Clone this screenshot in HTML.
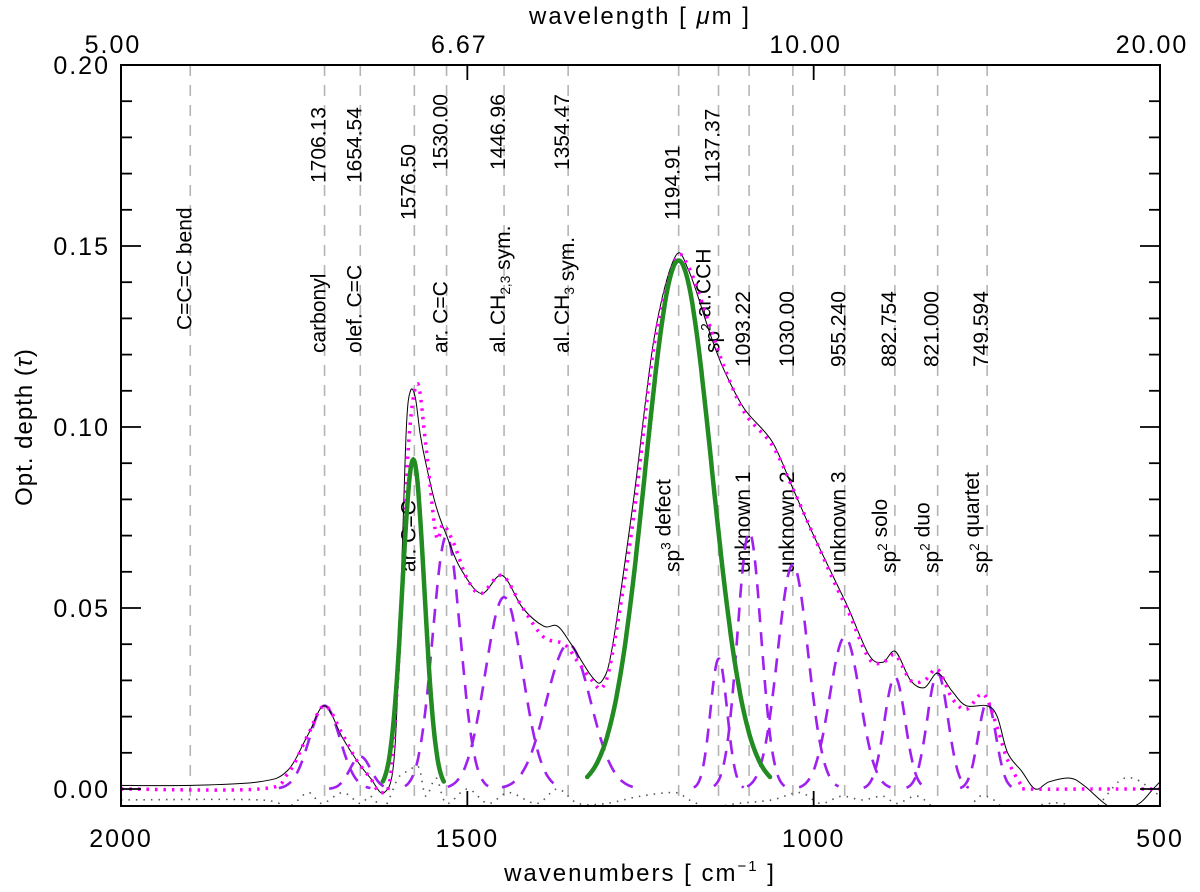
<!DOCTYPE html>
<html><head><meta charset="utf-8"><style>
html,body{margin:0;padding:0;background:#fff;}
svg{display:block;font-family:"Liberation Sans",sans-serif;}
</style></head><body>
<svg id="chart" width="1200" height="892" viewBox="0 0 1200 892" xmlns="http://www.w3.org/2000/svg">
<defs><clipPath id="clip"><rect x="121" y="65" width="1039" height="741"/></clipPath></defs>
<g id="grid"></g>
<g id="labels"></g>
<g id="series" clip-path="url(#clip)"></g>
<g id="axes"></g>
</svg>
<script>
const NS="http://www.w3.org/2000/svg";
// ---------- data ----------
const bandCenters=[1900,1706.13,1654.54,1576.50,1530.00,1446.96,1354.47,1194.91,1137.37,1093.22,1030.00,955.240,882.754,821.000,749.594];
const bandNumbers=["","1706.13","1654.54","1576.50","1530.00","1446.96","1354.47","1194.91","1137.37","1093.22","1030.00","955.240","882.754","821.000","749.594"];
const bandNames=["C=C=C bend","carbonyl","olef. C=C","ar. C=C","ar. C=C","al. CH|2,3| sym.","al. CH|3| sym.","sp^3^ defect","sp^2^ ar.CCH","unknown 1","unknown 2","unknown 3","sp^2^ solo","sp^2^ duo","sp^2^ quartet"];
const numberBottom=[0,183,183,220,170,170,170,220,183,367,367,367,367,367,367];
const nameBottom=[330,353,353,572,353,353,353,572,353,573,573,573,573,573,573];

const compCenter=[1706,1654.5,1530,1447,1354,1137,1093,1030,955,882.8,821,749.6];
const compHeight=[0.023,0.009,0.070,0.053,0.040,0.036,0.071,0.062,0.042,0.031,0.032,0.024];
const compSigma=[22,15,20,27,32,12,17,22,22,15,15,13];

const greenCenter=[1578,1195];
const greenHeight=[0.091,0.146];
const greenSigma=[16,48];

const obsW=[2000,1900,1800,1760,1730,1706,1680,1660,1640,1620,1605,1595,1588,1582,1575,1568,1560,1545,1530,1510,1480,1450,1420,1390,1370,1350,1320,1305,1290,1260,1230,1200,1180,1150,1130,1100,1060,1030,1000,970,950,920,900,882,860,840,821,800,780,750,735,720,700,680,660,630,610,580,560,530,510,500];
const obsV=[0.001,0.001,0.002,0.005,0.015,0.023,0.014,0.008,0.003,-0.001,0.010,0.060,0.100,0.110,0.108,0.098,0.090,0.078,0.070,0.061,0.054,0.059,0.050,0.045,0.045,0.040,0.031,0.030,0.040,0.080,0.125,0.147,0.143,0.126,0.116,0.105,0.096,0.083,0.070,0.058,0.050,0.037,0.035,0.038,0.030,0.028,0.032,0.027,0.023,0.023,0.020,0.010,0.005,0.000,0.002,0.003,0.001,-0.004,-0.006,-0.004,0.000,0.002];

const fitW=[2000,1800,1760,1730,1706,1680,1660,1640,1625,1610,1595,1585,1572,1560,1545,1535,1520,1500,1480,1450,1420,1390,1360,1340,1320,1305,1290,1260,1230,1200,1180,1150,1130,1100,1060,1030,1000,970,950,920,900,882,860,840,821,800,780,760,750,735,720,700,690,600,500];
const fitV=[0.000,0.000,0.004,0.015,0.023,0.015,0.008,0.003,-0.001,0.005,0.050,0.095,0.112,0.095,0.070,0.073,0.068,0.058,0.054,0.059,0.050,0.042,0.040,0.035,0.030,0.028,0.038,0.075,0.123,0.146,0.144,0.128,0.117,0.104,0.095,0.083,0.070,0.057,0.049,0.036,0.035,0.037,0.030,0.030,0.033,0.025,0.022,0.026,0.025,0.017,0.008,0.001,0.000,0.000,0.000];

const resW=[2000,1800,1760,1730,1710,1680,1655,1640,1620,1600,1585,1570,1560,1545,1530,1500,1470,1440,1400,1370,1340,1300,1250,1200,1180,1150,1110,1060,1020,990,960,930,900,880,850,820,800,780,760,740,720,690,660,640,600,560,540,520,500];
const resV=[-0.003,-0.003,-0.005,-0.001,-0.004,-0.001,-0.004,-0.002,-0.005,0.003,0.005,0.006,-0.002,0.003,-0.004,0.000,-0.004,-0.001,-0.004,0.000,-0.004,-0.004,-0.002,-0.001,-0.003,-0.005,-0.004,-0.003,-0.001,-0.004,-0.002,-0.003,-0.002,-0.004,-0.002,-0.006,-0.005,-0.006,-0.002,-0.003,-0.006,-0.005,-0.004,-0.004,-0.006,0.002,0.003,0.001,-0.002];

const yTicks=[0,0.05,0.10,0.15,0.20];
const yTickLabels=["0.00","0.05","0.10","0.15","0.20"];
const xTicks=[2000,1500,1000,500];
const xTickLabels=["2000","1500","1000","500"];
const lamTicks=[5,6.6667,10,20];
const lamTickLabels=["5.00","6.67","10.00","20.00"];

// ---------- scales ----------
const L=121,R=1160,T=65,B=806;
function X(w){return L+(2000-w)*(R-L)/1500;}
function Y(v){return 789-v*3620;}

function mk(tag,attrs,parent){const e=document.createElementNS(NS,tag);for(const k in attrs)e.setAttribute(k,attrs[k]);parent.appendChild(e);return e;}
function smooth(pts){
  let d="M"+pts[0][0].toFixed(1)+","+pts[0][1].toFixed(1);
  for(let i=0;i<pts.length-1;i++){
    const p0=pts[i-1]||pts[i],p1=pts[i],p2=pts[i+1],p3=pts[i+2]||p2;
    const c1=[p1[0]+(p2[0]-p0[0])/6,p1[1]+(p2[1]-p0[1])/6];
    const c2=[p2[0]-(p3[0]-p1[0])/6,p2[1]-(p3[1]-p1[1])/6];
    d+="C"+c1[0].toFixed(1)+","+c1[1].toFixed(1)+" "+c2[0].toFixed(1)+","+c2[1].toFixed(1)+" "+p2[0].toFixed(1)+","+p2[1].toFixed(1);
  }
  return d;
}
function gaussPath(c,h,s,k){
  let d="";
  for(let w=c+k*s,i=0;w>=c-k*s-0.01;w-=1,i++){
    const v=h*Math.exp(-0.5*((w-c)/s)**2);
    d+=(i?"L":"M")+X(w).toFixed(1)+","+Y(v).toFixed(1);
  }
  return d;
}

const grid=document.getElementById('grid'),labels=document.getElementById('labels'),series=document.getElementById('series'),axes=document.getElementById('axes');

// guide lines & labels
function rotText(x,y,str,size,parent,name){
  const t=mk('text',{x:x,y:y,transform:`rotate(-90 ${x} ${y})`,'text-anchor':'start','font-size':size,fill:'#000'},parent);
  
  
  // parse |sub| and ^sup^
  const parts=str.split(/(\|[^|]*\||\^[^^]*\^)/);
  parts.forEach(p=>{
    if(!p)return;
    if(p[0]==='|'){const s=mk('tspan',{'font-size':size*0.65,dy:5},t);s.textContent=p.slice(1,-1);mk('tspan',{dy:-5},t).textContent="";}
    else if(p[0]==='^'){const s=mk('tspan',{'font-size':size*0.65,dy:-9},t);s.textContent=p.slice(1,-1);const r=mk('tspan',{dy:9},t);r.textContent="";}
    else{const s=mk('tspan',{},t);s.textContent=p;}
  });
  return t;
}
bandCenters.forEach((c,i)=>{
  const x=X(c);
  const ln=mk('line',{x1:x,x2:x,y1:T,y2:B,stroke:'#b4b4b4','stroke-width':1.6,'stroke-dasharray':'11,9'},grid);
  
  
  if(bandNumbers[i]){
    const t=rotText(x+1,numberBottom[i],bandNumbers[i],21,labels,'band-wavenumber-'+i);
  }
  rotText(x+1,nameBottom[i],bandNames[i],21,labels,'band-name-'+i);
});

// residual
{
  const p=mk('path',{d:smooth(resW.map((w,i)=>[X(w),Y(resV[i])])),fill:'none',stroke:'#555','stroke-width':1.6,'stroke-dasharray':'1.5,6'},series);
  
  
}
// components
compCenter.forEach((c,i)=>{
  const p=mk('path',{d:gaussPath(c,compHeight[i],compSigma[i],3),fill:'none',stroke:'#a020f0','stroke-width':2.6,'stroke-dasharray':'14,10'},series);
  
  
});
// observed
{
  const p=mk('path',{d:smooth(obsW.map((w,i)=>[X(w),Y(obsV[i])])),fill:'none',stroke:'#000','stroke-width':1},series);
  
  
}
// fit
{
  const p=mk('path',{d:smooth(fitW.map((w,i)=>[X(w),Y(fitV[i])])),fill:'none',stroke:'#ff00ff','stroke-width':3.5,'stroke-dasharray':'2.5,6'},series);
  
  
}
// green
greenCenter.forEach((c,i)=>{
  const p=mk('path',{d:gaussPath(c,greenHeight[i],greenSigma[i],2.75),fill:'none',stroke:'#228b22','stroke-width':4.5,'stroke-linecap':'round'},series);
  
  
});

// axes frame
{
  const r=mk('rect',{x:L,y:T,width:R-L,height:B-T,fill:'none',stroke:'#000','stroke-width':2},axes);
  
  
}
// y ticks minor + major
for(let k=0;k<=20;k++){
  const v=k/100,y=Y(v),len=(k%5===0)?20:11;
  mk('line',{x1:L,x2:L+len,y1:y,y2:y,stroke:'#000','stroke-width':1.8},axes);
  mk('line',{x1:R,x2:R-len,y1:y,y2:y,stroke:'#000','stroke-width':1.8},axes);
}
yTicks.forEach((v,i)=>{
  const t=mk('text',{x:110,y:Y(v)+9,'text-anchor':'end','font-size':25,'letter-spacing':2},axes);
  
  
  t.textContent=yTickLabels[i];
});
xTicks.forEach((w,i)=>{
  const x=X(w);
  mk('line',{x1:x,x2:x,y1:B,y2:B-15,stroke:'#000','stroke-width':1.8},axes);
  const t=mk('text',{x:x,y:847,'text-anchor':'middle','font-size':25,'letter-spacing':2},axes);
  
  
  t.textContent=xTickLabels[i];
});
lamTicks.forEach((l,i)=>{
  const x=X(10000/l);
  mk('line',{x1:x,x2:x,y1:T,y2:T+15,stroke:'#000','stroke-width':1.8},axes);
  const t=mk('text',{x:x-8,y:53,'text-anchor':'middle','font-size':25,'letter-spacing':2},axes);
  
  
  t.textContent=lamTickLabels[i];
});
</script>
<svg width="0" height="0"></svg>
<div style="position:absolute;left:0;top:0;width:1200px;height:892px;pointer-events:none;">
<svg width="1200" height="892" style="position:absolute;left:0;top:0" font-family="Liberation Sans, sans-serif">
<text x="640" y="24" text-anchor="middle" font-size="24" letter-spacing="2">wavelength [ <tspan font-style="italic">μ</tspan>m ]</text>
<text x="640" y="881" text-anchor="middle" font-size="24" letter-spacing="2">wavenumbers [ cm<tspan font-size="15" dy="-10">−1</tspan><tspan dy="10"> ]</tspan></text>
<text x="32" y="427" text-anchor="middle" font-size="24" letter-spacing="1" transform="rotate(-90 32 427)">Opt. depth (<tspan font-style="italic">τ</tspan>)</text>
</svg>
</div>
</body></html>
